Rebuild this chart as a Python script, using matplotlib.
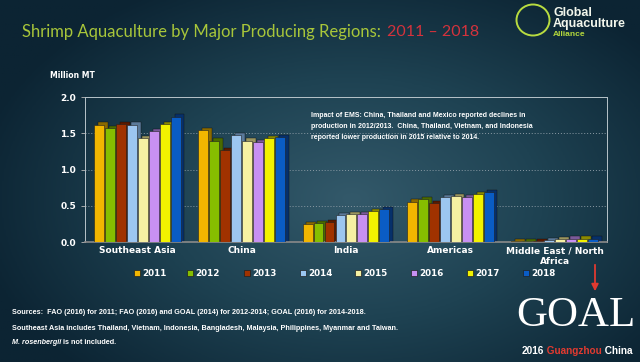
import numpy as np
import matplotlib.pyplot as plt
from matplotlib.patches import Rectangle, Ellipse
from matplotlib.colors import LinearSegmentedColormap

regions = ["Southeast Asia", "China", "India", "Americas", "Middle East / North\nAfrica"]
years = ["2011", "2012", "2013", "2014", "2015", "2016", "2017", "2018"]

# million MT, per year, one value per region
v2011 = [1.62, 1.55, 0.25, 0.56, 0.01]
v2012 = [1.57, 1.40, 0.26, 0.59, 0.01]
v2013 = [1.63, 1.27, 0.28, 0.54, 0.01]
v2014 = [1.62, 1.47, 0.37, 0.62, 0.03]
v2015 = [1.43, 1.40, 0.39, 0.63, 0.04]
v2016 = [1.53, 1.38, 0.39, 0.62, 0.05]
v2017 = [1.63, 1.43, 0.43, 0.66, 0.05]
v2018 = [1.73, 1.45, 0.46, 0.69, 0.05]
series = [v2011, v2012, v2013, v2014, v2015, v2016, v2017, v2018]

colors = ["#F2B600", "#86BE00", "#A03200", "#9CC6F0", "#F6F0A2", "#C890F2", "#F2F200", "#0A5CC4"]
sides = ["#8A6A00", "#4A6A00", "#5A1A00", "#5A7A9A", "#9A9660", "#7A5A9A", "#8A8A00", "#06306A"]

W, H = 640, 362
fig = plt.figure(figsize=(6.4, 3.62), dpi=100)

def fx(px):
    return px / W

def fy(py):
    return 1 - py / H

# background gradient
bg = fig.add_axes([0, 0, 1, 1])
yy, xx = np.mgrid[0:1:200j, 0:1:300j]
r = np.sqrt(((xx - 0.55) / 0.8) ** 2 + ((yy - 0.55) / 0.9) ** 2)
cmap = LinearSegmentedColormap.from_list("bg", ["#33596A", "#1E4252", "#0C2433"])
bg.imshow(r, cmap=cmap, extent=[0, 1, 0, 1], aspect="auto", vmin=0, vmax=0.75)
bg.set_xlim(0, 1)
bg.set_ylim(0, 1)
bg.set_axis_off()

ax = fig.add_axes([0.133, 0.331, 0.815, 0.401])
ax.patch.set_alpha(0)
x = np.arange(len(regions))
w = 0.105
for i, (vals, c, s) in enumerate(zip(series, colors, sides)):
    xs = x + (i - 3.5) * w
    # fake 3D side
    ax.bar(xs + w * 0.35, np.array(vals) + 0.03, w * 0.9, color=s, edgecolor="#101010", linewidth=0.3, zorder=2)
    ax.bar(xs, vals, w * 0.9, color=c, edgecolor="#202020", linewidth=0.4, zorder=3)

ax.set_xlim(-0.5, 4.5)
ax.set_ylim(0, 2.0)
ax.set_yticks([0, 0.5, 1.0, 1.5, 2.0])
ax.set_yticklabels(["0.0", "0.5", "1.0", "1.5", "2.0"])
ax.set_xticks(x)
ax.set_xticklabels(regions, fontsize=6.5, fontweight="bold", color="white", linespacing=1.3)
ax.tick_params(axis="y", labelsize=6.5, labelcolor="white", colors="#BBBBBB", length=3, width=0.6)
ax.tick_params(axis="x", length=0, pad=3)
for lab in ax.get_yticklabels():
    lab.set_fontweight("bold")
for yv in [0.5, 1.0, 1.5]:
    ax.axhline(yv, color="#8A9AA4", linestyle=(0, (1, 2)), linewidth=0.7, zorder=1)
for sp in ["top", "right", "left"]:
    ax.spines[sp].set_color("#B8C4CA")
    ax.spines[sp].set_linewidth(0.7)
ax.spines["bottom"].set_color("#8A8A8A")
ax.spines["bottom"].set_linewidth(1.2)

ax.text(0.433, 0.9, "Impact of EMS: China, Thailand and Mexico reported declines in\n"
        "production in 2012/2013.  China, Thailand, Vietnam, and Indonesia\n"
        "reported lower production in 2015 relative to 2014.",
        transform=ax.transAxes, fontsize=5, fontweight="bold", color="white",
        family="Liberation Sans", va="top", ha="left", linespacing=1.85)

# title
fig.text(fx(22), fy(32), "Shrimp Aquaculture by Major Producing Regions:",
         fontsize=12, color="#A8C63A", family="Lato", va="center")
fig.text(fx(387), fy(32), "2011 \u2013 2018", fontsize=11.5, color="#D4323C", family="Lato", va="center")
fig.text(fx(50), fy(76), "Million MT", fontsize=5.5, fontweight="bold", color="white", va="center")

# GAA logo
fig.text(fx(553), fy(13), "Global", fontsize=9, fontweight="bold", color="#F2F6EC",
         family="Liberation Sans", va="center")
fig.text(fx(553), fy(24), "Aquaculture", fontsize=9, fontweight="bold", color="#F2F6EC",
         family="Liberation Sans", va="center")
fig.text(fx(553), fy(35), "Alliance", fontsize=6, fontweight="bold", color="#B4D83C",
         family="Liberation Sans", va="center")
bg.add_patch(Ellipse((fx(533), fy(20)), 33 / W, 31 / H, fill=False, edgecolor="#B8DC40", linewidth=1.4))

# legend
lx = [137, 190, 247, 303, 358, 414, 470, 526]
for xi, yr, c in zip(lx, years, colors):
    bg.add_patch(Rectangle((fx(xi - 3), fy(276)), 6 / W, 6 / H,
                           facecolor=c, edgecolor="#202020", linewidth=0.5))
    fig.text(fx(xi + 5), fy(273), yr, fontsize=6.3, fontweight="bold", color="white", va="center")

# footnotes
fn = dict(fontsize=5.2, fontweight="bold", color="white", family="Liberation Sans", va="center")
fig.text(fx(12), fy(312), "Sources:  FAO (2016) for 2011; FAO (2016) and GOAL (2014) for 2012-2014; GOAL (2016) for 2014-2018.", **fn)
fig.text(fx(12), fy(328), "Southeast Asia includes Thailand, Vietnam, Indonesia, Bangladesh, Malaysia, Philippines, Myanmar and Taiwan.", **fn)
t3 = fig.text(fx(12), fy(342), "M. rosenbergii", style="italic", **fn)
bg.annotate(" is not included.", xy=(1, 0.5), xycoords=t3, ha="left", **fn)

# GOAL logo
fig.text(fx(576), fy(316), "GOAL", fontsize=31, color="white", family="Liberation Serif", ha="center", va="center")
lg = dict(fontsize=7.2, fontweight="bold", family="Liberation Sans", va="center")
t4 = fig.text(fx(522), fy(351), "2016", color="white", **lg)
t5 = bg.annotate(" Guangzhou", xy=(1, 0.5), xycoords=t4, ha="left", color="#E03A30", **lg)
bg.annotate(" China", xy=(1, 0.5), xycoords=t5, ha="left", color="white", **lg)
bg.annotate("", xy=(fx(595), fy(294)), xytext=(fx(595), fy(262)), xycoords="figure fraction",
            arrowprops=dict(arrowstyle="-|>", color="#E03A30", lw=1.3))

fig.savefig("out.png", dpi=100)
